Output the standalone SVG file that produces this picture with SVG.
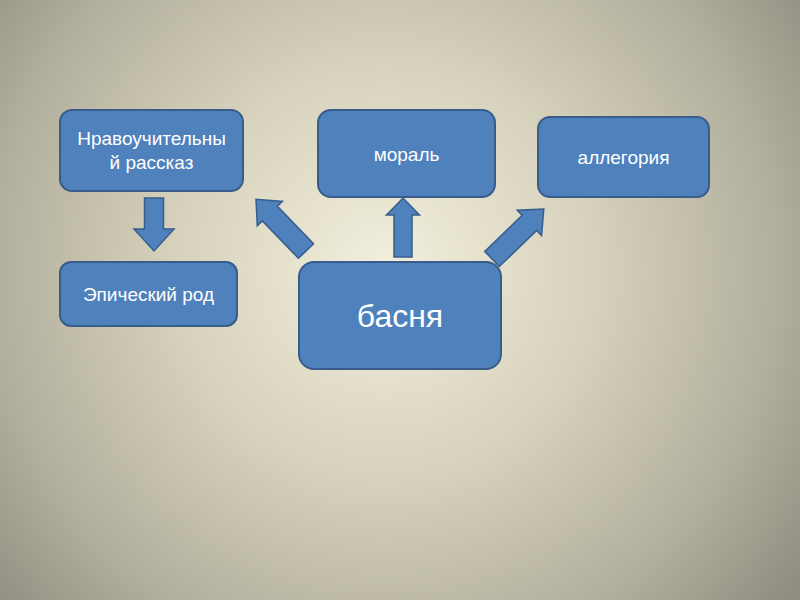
<svg xmlns="http://www.w3.org/2000/svg" width="800" height="600" viewBox="0 0 800 600">
  <defs>
    <radialGradient id="bg" gradientUnits="userSpaceOnUse" cx="385" cy="270" r="520">
      <stop offset="0" stop-color="#F2EFDD"/>
      <stop offset="0.4" stop-color="#D6D2BC"/>
      <stop offset="0.75" stop-color="#B2AF9D"/>
      <stop offset="1" stop-color="#8F8D81"/>
    </radialGradient>
    <style>
      .box { fill: #4F81BD; stroke: #385D8A; stroke-width: 2; }
      .arrow { fill: #4F81BD; stroke: #385D8A; stroke-width: 1.5; stroke-linejoin: miter; }
      .lbl { fill: #FFFFFF; font-family: "Liberation Sans", Arial, sans-serif; font-size: 19px; text-anchor: middle; }
      .big { font-size: 32px; }
    </style>
  </defs>
  <rect x="0" y="0" width="800" height="600" fill="url(#bg)"/>

  <g id="connectors">
    <!-- Нравоучительный рассказ -> Эпический род -->
    <polygon class="arrow" points="144.5,198 163.5,198 163.5,229 174,229 154,251 134,229 144.5,229"/>
    <!-- басня -> мораль -->
    <polygon class="arrow" points="394,257 412,257 412,215 419.5,215 403,198 386.5,215 394,215"/>
    <!-- басня -> Нравоучительный рассказ -->
    <polygon class="arrow" transform="translate(306,251) rotate(-134)" points="0,-10.5 52,-10.5 52,-17.5 72,0 52,17.5 52,10.5 0,10.5"/>
    <!-- басня -> аллегория -->
    <polygon class="arrow" transform="translate(492,259) rotate(-44)" points="0,-10.5 52,-10.5 52,-17.5 72,0 52,17.5 52,10.5 0,10.5"/>
  </g>

  <g id="node-nravouchitelny">
    <rect class="box" x="60" y="110" width="183" height="81" rx="12" ry="12"/>
    <text class="lbl" x="151.5" y="145">Нравоучительны</text>
    <text class="lbl" x="151.5" y="169">й рассказ</text>
  </g>

  <g id="node-epichesky">
    <rect class="box" x="60" y="262" width="177" height="64" rx="11" ry="11"/>
    <text class="lbl" x="148.5" y="301">Эпический род</text>
  </g>

  <g id="node-moral">
    <rect class="box" x="318" y="110" width="177" height="87" rx="13" ry="13"/>
    <text class="lbl" x="406.5" y="161">мораль</text>
  </g>

  <g id="node-allegoria">
    <rect class="box" x="538" y="117" width="171" height="80" rx="12" ry="12"/>
    <text class="lbl" x="623.5" y="164">аллегория</text>
  </g>

  <g id="node-basnya">
    <rect class="box" x="299" y="262" width="202" height="107" rx="15" ry="15"/>
    <text class="lbl big" x="400" y="327">басня</text>
  </g>
</svg>
